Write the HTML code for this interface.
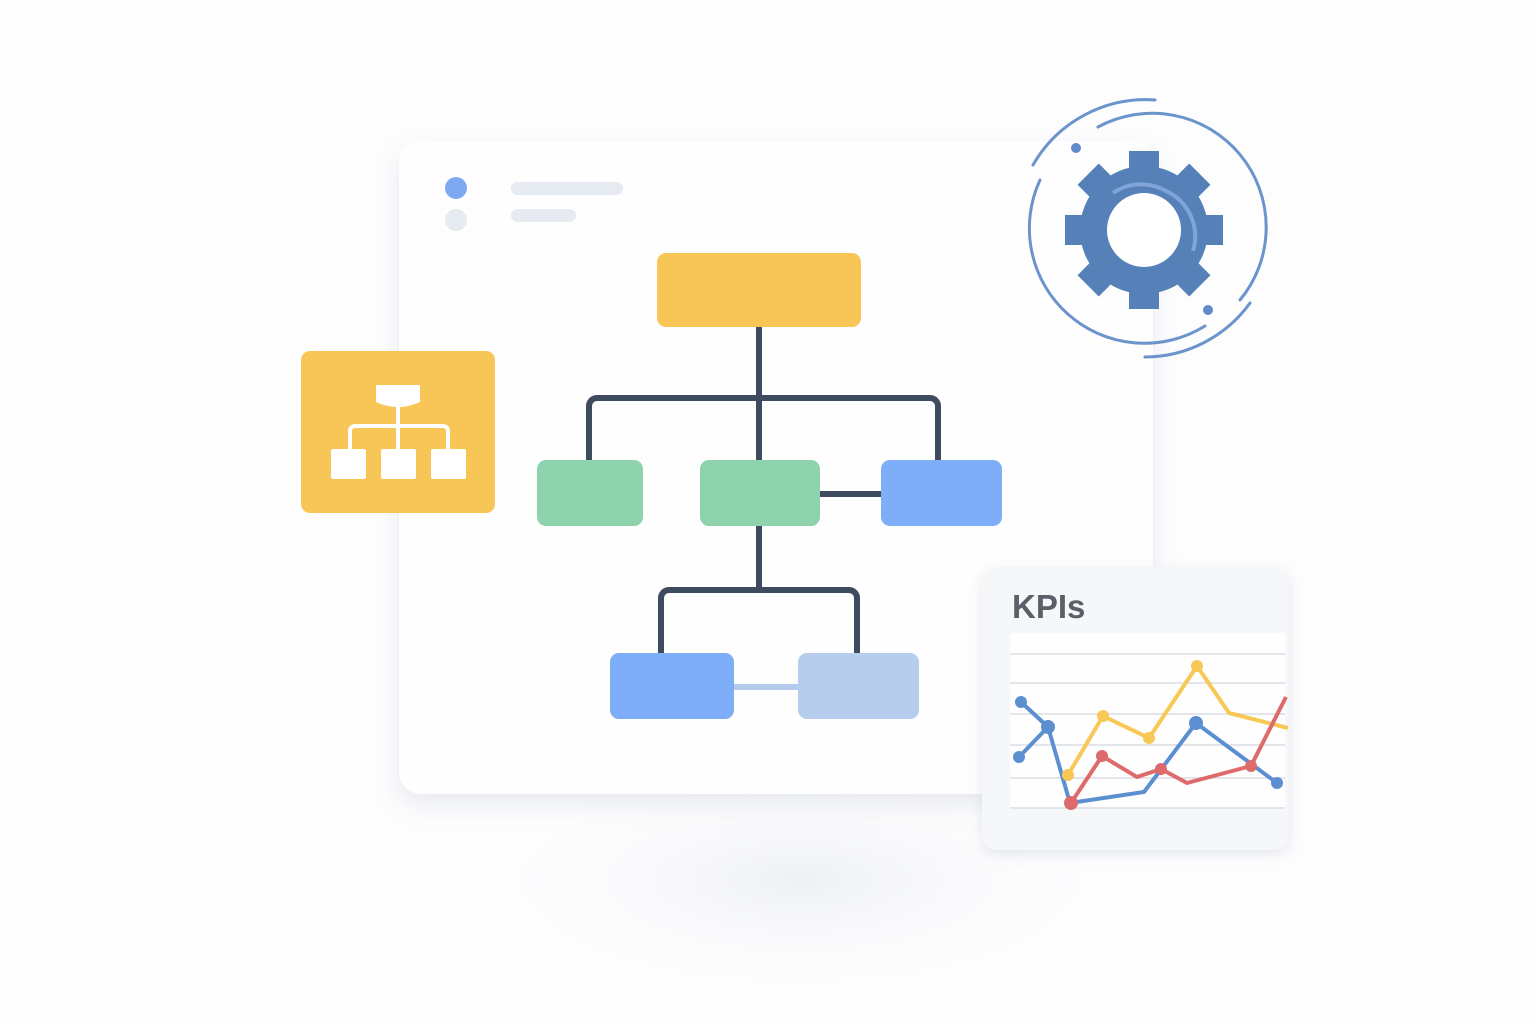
<!DOCTYPE html>
<html><head><style>
html,body{margin:0;padding:0;background:#fdfdfe;}
body{width:1536px;height:1024px;position:relative;overflow:hidden;font-family:"Liberation Sans",sans-serif;}
</style></head><body>
<svg width="1536" height="1024" viewBox="0 0 1536 1024" xmlns="http://www.w3.org/2000/svg" style="position:absolute;left:0;top:0">
<defs>
<filter id="sh" x="-20%" y="-20%" width="140%" height="150%"><feDropShadow dx="0" dy="10" stdDeviation="12" flood-color="#8090b0" flood-opacity="0.18"/></filter>
<filter id="sh2" x="-20%" y="-20%" width="140%" height="140%"><feDropShadow dx="0" dy="4" stdDeviation="6" flood-color="#8090b0" flood-opacity="0.2"/></filter>
<radialGradient id="fl" cx="0.5" cy="0.5" r="0.5"><stop offset="0" stop-color="#eef0f4"/><stop offset="1" stop-color="#fdfdfe" stop-opacity="0"/></radialGradient>
</defs>
<ellipse cx="800" cy="880" rx="330" ry="120" fill="url(#fl)"/>
<rect x="399" y="141" width="754" height="653" rx="22" fill="#fefefe" filter="url(#sh)"/>
<circle cx="456" cy="188" r="11" fill="#7ea9f2"/>
<circle cx="456" cy="220" r="11" fill="#e6eaf1"/>
<rect x="511" y="182" width="112" height="13" rx="6.5" fill="#e6eaf1"/>
<rect x="511" y="209" width="65" height="13" rx="6.5" fill="#e6eaf1"/>
<g stroke="#3e4a5e" stroke-width="6" fill="none" stroke-linejoin="round">
<path d="M759 326V460"/>
<path d="M589 460V406a8 8 0 0 1 8-8H930a8 8 0 0 1 8 8V460"/>
<path d="M819 494H881"/>
<path d="M759 525V590"/>
<path d="M661 654V598a8 8 0 0 1 8-8H849a8 8 0 0 1 8 8V654"/>
</g>
<path d="M733 687H799" stroke="#b5cbee" stroke-width="6"/>
<rect x="657" y="253" width="204" height="74" rx="9" fill="#f8c657"/>
<rect x="537" y="460" width="106" height="66" rx="9" fill="#8ed3ae"/>
<rect x="700" y="460" width="120" height="66" rx="9" fill="#8ed3ae"/>
<rect x="881" y="460" width="121" height="66" rx="9" fill="#7eaef7"/>
<rect x="610" y="653" width="124" height="66" rx="9" fill="#7eaef7"/>
<rect x="798" y="653" width="121" height="66" rx="9" fill="#b7cdee"/>
<rect x="301" y="351" width="194" height="162" rx="9" fill="#f8c657"/>
<g fill="#fff"><path d="M376 385h44v17q-11 5-22 5t-22-5z"/>
<rect x="331" y="449" width="35" height="30" rx="2"/><rect x="381" y="449" width="35" height="30" rx="2"/><rect x="431" y="449" width="35" height="30" rx="2"/></g>
<g stroke="#fff" stroke-width="4" fill="none"><path d="M398 405V449"/><path d="M350 449V431a5 5 0 0 1 5-5H443a5 5 0 0 1 5 5V449"/></g>
<!-- gear -->
<g transform="translate(1144,230)" fill="#5680b8">
<circle r="64"/>
<g id="t"><rect x="-15" y="-79" width="30" height="24"/></g>
<use href="#t" transform="rotate(45)"/><use href="#t" transform="rotate(90)"/><use href="#t" transform="rotate(135)"/>
<use href="#t" transform="rotate(180)"/><use href="#t" transform="rotate(225)"/><use href="#t" transform="rotate(270)"/><use href="#t" transform="rotate(315)"/>
<circle r="37" fill="#fff"/>
</g>
<path d="M1113 193a50 50 0 0 1 53 -2 50 50 0 0 1 27 60" stroke="#7fa4d8" stroke-width="4" fill="none"/>
<g stroke="#6b93cc" stroke-width="3" fill="none" stroke-linecap="round">
<path d="M1098 127A114 114 0 0 1 1240 300"/>
<path d="M1205 326A115 115 0 0 1 1040 180"/>
<path d="M1033 165A130 130 0 0 1 1155 100"/>
<path d="M1250 303A130 130 0 0 1 1145 357"/>
</g>
<circle cx="1076" cy="148" r="5" fill="#5f8bc8"/>
<circle cx="1208" cy="310" r="5" fill="#5f8bc8"/>
<!-- KPI card -->
<rect x="982" y="567" width="307" height="283" rx="14" fill="#f6f7f9" filter="url(#sh2)"/>
<text x="1012" y="618" font-size="33" font-weight="bold" fill="#5a5f68" font-family="Liberation Sans,sans-serif">KPIs</text>
<rect x="1010" y="633" width="275" height="175" fill="#fefefe"/>
<g stroke="#e3e5ea" stroke-width="2"><path d="M1010 654H1285M1010 683H1285M1010 714H1285M1010 745H1285M1010 778H1285M1010 808H1285"/></g>
<g fill="none" stroke-width="4" stroke-linejoin="round">
<path d="M1019 757L1048 727M1021 702L1048 727L1070 803L1144 792L1196 723L1250 763L1277 783" stroke="#5b8fd0"/>
<path d="M1068 775L1103 716L1149 738L1197 666L1229 713L1288 728" stroke="#f7c855"/>
<path d="M1071 803L1102 756L1137 777L1161 769L1187 783L1251 766L1286 697" stroke="#de6b6b"/>
</g>
<g fill="#5b8fd0"><circle cx="1021" cy="702" r="6"/><circle cx="1019" cy="757" r="6"/><circle cx="1048" cy="727" r="7"/><circle cx="1196" cy="723" r="7"/><circle cx="1277" cy="783" r="6"/></g>
<g fill="#f7c855"><circle cx="1068" cy="775" r="6"/><circle cx="1103" cy="716" r="6"/><circle cx="1149" cy="738" r="6"/><circle cx="1197" cy="666" r="6"/></g>
<g fill="#de6b6b"><circle cx="1071" cy="803" r="7"/><circle cx="1102" cy="756" r="6"/><circle cx="1161" cy="769" r="6"/><circle cx="1251" cy="766" r="6"/></g>
</svg>
</body></html>
